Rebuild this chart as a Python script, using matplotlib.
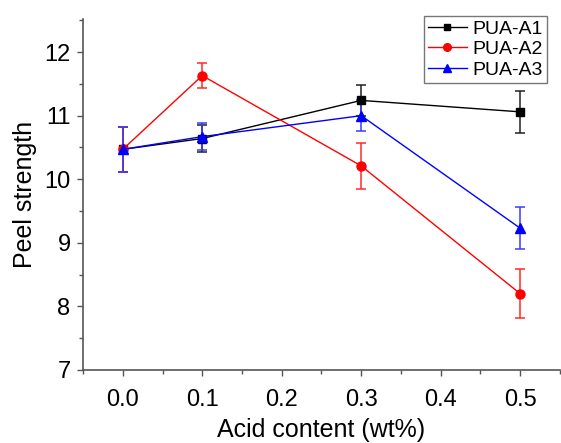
import numpy as np
import matplotlib
matplotlib.use("Agg")
import matplotlib.pyplot as plt
from matplotlib.lines import Line2D
from matplotlib.ticker import MultipleLocator

# acid content (wt%)
acid = [0.0, 0.1, 0.3, 0.5]

# peel strength, mean and error
a1 = [10.47, 10.64, 11.24, 11.06]
a1_err = [0.35, 0.21, 0.24, 0.33]
a2 = [10.47, 11.63, 10.21, 8.20]
a2_err = [0.35, 0.20, 0.36, 0.385]
a3 = [10.47, 10.67, 11.00, 9.23]
a3_err = [0.35, 0.21, 0.24, 0.33]

labels = ["PUA-A1", "PUA-A2", "PUA-A3"]

plt.rcParams["font.family"] = ["Liberation Sans", "DejaVu Sans"]

fig = plt.figure(figsize=(5.61, 4.43), dpi=100)
ax = fig.add_axes([0.148, 0.165, 0.85, 0.792])

series = [(a1, a1_err, "black", "s", 5.5, "#222222"),
          (a2, a2_err, "red", "o", 6.5, "#ff2a2a"),
          (a3, a3_err, "blue", "^", 7, "#3a3aff")]
handles = []
for (y, err, c, m, ms, ec), lab in zip(series, labels):
    ax.errorbar(acid, y, yerr=err, color=c, marker=m, markersize=ms, lw=1.0,
                elinewidth=1.1, capsize=3.5, capthick=1.1, ecolor=ec)
    # legend handle without the error bar
    handles.append(Line2D([], [], color=c, marker=m, markersize=ms - 1, lw=1.0, label=lab))

ax.set_xlim(-0.05, 0.55)
ax.set_ylim(7, 12.52)
ax.xaxis.set_major_locator(MultipleLocator(0.1))
ax.xaxis.set_minor_locator(MultipleLocator(0.05))
ax.yaxis.set_major_locator(MultipleLocator(1))
ax.yaxis.set_minor_locator(MultipleLocator(0.5))
ax.xaxis.set_major_formatter(plt.FormatStrFormatter("%.1f"))

for s in ["top", "right"]:
    ax.spines[s].set_visible(False)
for s in ["left", "bottom"]:
    ax.spines[s].set_color("#555555")
    ax.spines[s].set_linewidth(1.2)

ax.tick_params(which="major", direction="out", length=4, width=1, color="#555555", labelsize=17)
ax.tick_params(which="minor", direction="out", length=3, width=1, color="#555555")
ax.tick_params(axis="x", which="major", pad=10)
ax.tick_params(axis="y", which="major", pad=5)

ax.set_xlabel("Acid content (wt%)", fontsize=18, labelpad=5)
ax.set_ylabel("Peel strength", fontsize=18, labelpad=5)

leg = ax.legend(handles=handles, loc="upper right", bbox_to_anchor=(0.985, 1.025), fontsize=14,
                frameon=True, fancybox=False, edgecolor="#555555", handlelength=2.0,
                borderpad=0.2, labelspacing=0.15, handletextpad=0.3, borderaxespad=0.3)
leg.get_frame().set_linewidth(1.0)

fig.savefig("out.png", dpi=100)
